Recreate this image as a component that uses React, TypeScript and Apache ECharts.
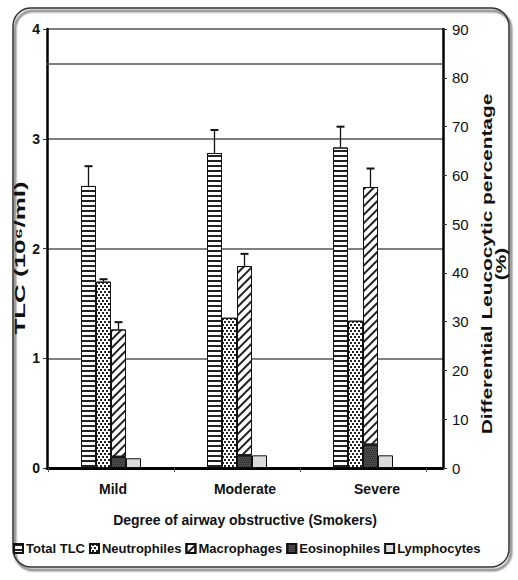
import React, { useEffect, useRef } from "react";
import * as echarts from "echarts";

const categories = ["Mild", "Moderate", "Severe"];
const totalTLC = [2.57, 2.87, 2.92];
const totalTLCErr = [0.18, 0.21, 0.19];
const neutrophiles = [38.2, 30.8, 30.2];
const neutrophilesErr = [0.5, 0, 0];
const macrophages = [28.4, 41.4, 57.6];
const macrophagesErr = [1.5, 2.5, 3.8];
const eosinophiles = [2.3, 2.6, 4.8];
const lymphocytes = [2.0, 2.6, 2.6];
const referenceLine = 3.68;
const seriesNames = ["Total TLC", "Neutrophiles", "Macrophages", "Eosinophiles", "Lymphocytes"];

const BW = 15;
const FONT = "'Liberation Sans', Arial, sans-serif";

function errRender(slot: number) {
  return (params: any, api: any) => {
    const xi = api.value(0);
    const v = api.value(1);
    const e = api.value(2);
    if (!e) return { type: "group", children: [] };
    const base = api.coord([xi, v]);
    const top = api.coord([xi, v + e]);
    const cx = base[0] - 2 * BW + BW * (slot + 0.5);
    return {
      type: "group",
      children: [
        { type: "line", shape: { x1: cx, y1: base[1], x2: cx, y2: top[1] }, style: { stroke: "#111", lineWidth: 1.3 } },
        { type: "line", shape: { x1: cx - 4, y1: top[1], x2: cx + 4, y2: top[1] }, style: { stroke: "#111", lineWidth: 2 } },
      ],
    };
  };
}

export default function App() {
  const ref = useRef<HTMLDivElement>(null);
  useEffect(() => {
    const chart = echarts.init(ref.current!, null, { renderer: "svg" });
    const border = { borderColor: "#111", borderWidth: 1 };
    const option: any = {
      animation: false,
      backgroundColor: "#fff",
      textStyle: { fontFamily: FONT },
      grid: [
        { left: 47, right: 75, top: 29, bottom: 112 },
        { left: 48, right: 92, top: 29, bottom: 112 },
      ],
      legend: {
        bottom: 20,
        left: 8,
        data: seriesNames,
        icon: "rect",
        itemWidth: 9,
        itemHeight: 9,
        itemGap: 4,
        textStyle: { fontFamily: FONT, fontWeight: "bold", fontSize: 13, color: "#111", padding: [0, 0, 0, -2] },
      },
      xAxis: [
        {
          gridIndex: 0,
          type: "category",
          data: categories,
          axisLine: { lineStyle: { color: "#000", width: 3 } },
          axisTick: { show: false },
          axisLabel: { fontFamily: FONT, fontWeight: "bold", fontSize: 14, color: "#111", margin: 14 },
          name: "Degree of airway obstructive (Smokers)",
          nameLocation: "middle",
          nameGap: 45,
          nameTextStyle: { fontFamily: FONT, fontWeight: "bold", fontSize: 14, color: "#111" },
        },
        {
          gridIndex: 1,
          type: "category",
          data: categories,
          axisLine: { show: false },
          axisTick: { show: true, length: 4, lineStyle: { color: "#555" } },
          axisLabel: { show: false },
        },
      ],
      yAxis: [
        {
          gridIndex: 0,
          type: "value",
          position: "left",
          min: 0,
          max: 4,
          interval: 1,
          axisLine: { show: true, lineStyle: { color: "#000", width: 2.5 } },
          axisTick: { show: true, length: 4, lineStyle: { color: "#333" } },
          axisLabel: { fontFamily: FONT, fontWeight: "bold", fontSize: 14, color: "#111", margin: 7 },
          splitLine: { show: true, lineStyle: { color: "#555", width: 1.5 } },
        },
        {
          gridIndex: 0,
          type: "value",
          position: "right",
          min: 0,
          max: 90,
          interval: 10,
          axisLine: { show: true, lineStyle: { color: "#000", width: 2.5 } },
          axisTick: { show: true, length: 4, lineStyle: { color: "#333" } },
          axisLabel: { fontFamily: FONT, fontSize: 15, color: "#111", margin: 9 },
          splitLine: { show: false },
        },
        { gridIndex: 1, type: "value", min: 0, max: 4, interval: 1, show: false },
        { gridIndex: 1, type: "value", min: 0, max: 90, interval: 10, show: false },
      ],
      series: [
        {
          name: "ref",
          type: "line",
          xAxisIndex: 0,
          yAxisIndex: 0,
          data: [],
          markLine: {
            silent: true,
            symbol: "none",
            label: { show: false },
            lineStyle: { color: "#555", width: 1.5, type: "solid" },
            data: [{ yAxis: referenceLine }],
          },
        },
        {
          name: "Total TLC",
          type: "bar",
          xAxisIndex: 1,
          yAxisIndex: 2,
          barWidth: BW,
          barGap: "0%",
          data: totalTLC,
          itemStyle: {
            color: "#fff",
            ...border,
            decal: { color: "#222", symbol: "rect", symbolSize: 1, dashArrayX: [1, 0], dashArrayY: [1.4, 2.6], rotation: 0 },
          },
        },
        {
          name: "Neutrophiles",
          type: "bar",
          xAxisIndex: 1,
          yAxisIndex: 3,
          barWidth: BW,
          barGap: "0%",
          data: neutrophiles,
          itemStyle: {
            color: "#fff",
            ...border,
            decal: { color: "#222", symbol: "rect", symbolSize: 1, dashArrayX: [[1.5, 1.5], [0, 1.5, 1.5, 0]], dashArrayY: [1.5, 0.01], rotation: 0 },
          },
        },
        {
          name: "Eosinophiles",
          type: "bar",
          stack: "me",
          xAxisIndex: 1,
          yAxisIndex: 3,
          barWidth: BW,
          barGap: "0%",
          data: eosinophiles,
          itemStyle: {
            color: "#4a4a4a",
            ...border,
            decal: { color: "#2a2a2a", symbol: "rect", symbolSize: 1, dashArrayX: [[1, 1], [0, 1, 1, 0]], dashArrayY: [1, 0.01], rotation: 0 },
          },
        },
        {
          name: "Macrophages",
          type: "bar",
          stack: "me",
          xAxisIndex: 1,
          yAxisIndex: 3,
          barWidth: BW,
          barGap: "0%",
          data: macrophages.map((m, i) => +(m - eosinophiles[i]).toFixed(2)),
          itemStyle: {
            color: "#fff",
            ...border,
            decal: { color: "#222", symbol: "rect", symbolSize: 1, dashArrayX: [1, 0], dashArrayY: [1.6, 3.4], rotation: -Math.PI / 4 },
          },
        },
        {
          name: "Lymphocytes",
          type: "bar",
          xAxisIndex: 1,
          yAxisIndex: 3,
          barWidth: BW,
          barGap: "0%",
          data: lymphocytes,
          itemStyle: { color: "#dcdcdc", ...border },
        },
        {
          name: "errTLC",
          type: "custom",
          xAxisIndex: 1,
          yAxisIndex: 2,
          renderItem: errRender(0),
          data: totalTLC.map((v, i) => [i, v, totalTLCErr[i]]),
          encode: { x: 0, y: 1 },
          z: 5,
        },
        {
          name: "errNeut",
          type: "custom",
          xAxisIndex: 1,
          yAxisIndex: 3,
          renderItem: errRender(1),
          data: neutrophiles.map((v, i) => [i, v, neutrophilesErr[i]]),
          encode: { x: 0, y: 1 },
          z: 5,
        },
        {
          name: "errMacro",
          type: "custom",
          xAxisIndex: 1,
          yAxisIndex: 3,
          renderItem: errRender(2),
          data: macrophages.map((v, i) => [i, v, macrophagesErr[i]]),
          encode: { x: 0, y: 1 },
          z: 5,
        },
      ],
      graphic: [
        {
          type: "rect",
          shape: { x: 13, y: 8, width: 496, height: 559, r: 18 },
          style: { fill: "none", stroke: "#333", lineWidth: 1.5, shadowBlur: 2, shadowColor: "rgba(0,0,0,0.85)", shadowOffsetX: 2, shadowOffsetY: 3 },
          silent: true,
          z: -1,
        },
        {
          type: "group",
          x: 20,
          y: 258,
          rotation: Math.PI / 2,
          children: [
            {
              type: "text",
              scaleX: 1.73,
              style: { text: "TLC (10⁶/ml)", font: `bold 15px ${FONT}`, fill: "#111", textAlign: "center", textVerticalAlign: "middle" },
            },
          ],
        },
        {
          type: "group",
          x: 494,
          y: 264,
          rotation: Math.PI / 2,
          children: [
            {
              type: "text",
              scaleX: 1.39,
              style: {
                text: "Differential Leucocytic percentage\n(%)",
                font: `bold 15px ${FONT}`,
                lineHeight: 14,
                fill: "#111",
                textAlign: "center",
                textVerticalAlign: "middle",
              },
            },
          ],
        },
      ],
    };
    chart.setOption(option);
    return () => chart.dispose();
  }, []);
  return <div ref={ref} style={{ position: "fixed", left: 0, top: 0, width: 518, height: 580 }} />;
}
